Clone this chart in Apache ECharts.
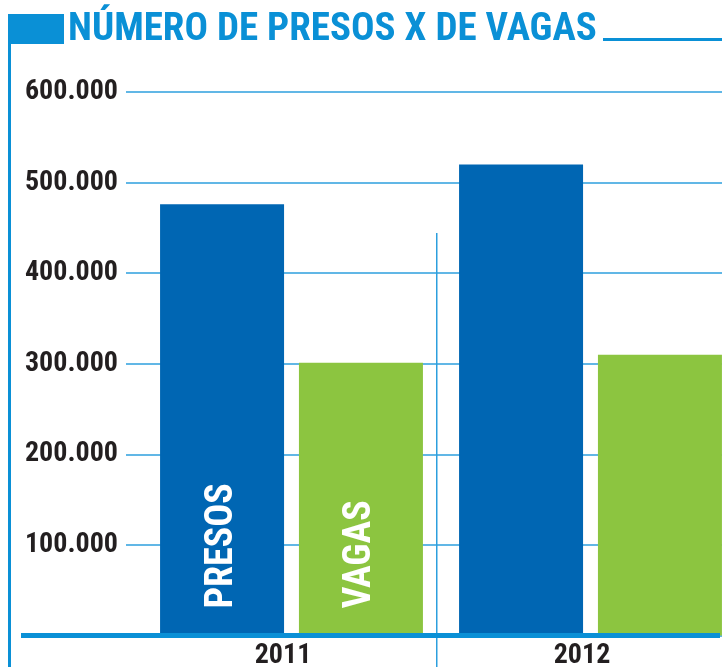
<!DOCTYPE html>
<html>
<head>
<meta charset="utf-8">
<script src="https://cdn.jsdelivr.net/npm/echarts@6/dist/echarts.min.js"></script>
<style>
  html, body { margin: 0; padding: 0; background: #ffffff; }
  #chart { width: 722px; height: 667px; }
</style>
</head>
<body>
<div id="chart"></div>
<script>
// Prisoners vs. prison places, by year
const titleText = 'NÚMERO DE PRESOS X DE VAGAS';
const years = ['2011', '2012'];
const presos = [476000, 520000];
const vagas = [301000, 310000];
const seriesNames = ['PRESOS', 'VAGAS'];
const yTicks = [0, 100000, 200000, 300000, 400000, 500000, 600000];
const yTickLabels = ['', '100.000', '200.000', '300.000', '400.000', '500.000', '600.000'];

const FONT = '"Roboto Condensed", "Liberation Sans", Arial, sans-serif';
const BLUE_LINE = '#0a90d6';
const GRID_LINE = '#2c9fde';
const PRESOS_COLOR = '#0066b3';
const VAGAS_COLOR = '#8cc540';
const INK = '#231f20';

const chart = echarts.init(document.getElementById('chart'), null, { renderer: 'canvas' });

// in-bar series label, shown only on the first year's bar
function withFirstLabel(values) {
  return values.map((v, i) => i === 0 ? { value: v, label: { show: true } } : v);
}

const barLabel = {
  show: false,
  position: 'insideBottom',
  distance: 27,
  rotate: 90,
  align: 'left',
  verticalAlign: 'middle',
  color: '#ffffff',
  fontFamily: FONT,
  fontWeight: 'bold',
  fontSize: 38,
  formatter: p => p.seriesName
};

chart.setOption({
  animation: false,
  backgroundColor: '#ffffff',
  grid: [
    { left: 126, right: 0, top: 92, bottom: 31.5, outerBoundsMode: 'none', containLabel: false },
    { left: 142, width: 598, top: 92, bottom: 31.5, outerBoundsMode: 'none', containLabel: false }
  ],
  xAxis: [
    { type: 'category', gridIndex: 0, data: years, show: false },
    {
      type: 'category', gridIndex: 1, data: years,
      axisLine: { show: false }, axisTick: { show: false },
      axisLabel: {
        color: INK, fontFamily: FONT, fontWeight: 'bold', fontSize: 28,
        margin: 6, padding: [0, 17, 0, 0]
      }
    }
  ],
  yAxis: [
    {
      type: 'value', gridIndex: 0, min: 0, max: 600000, interval: 100000,
      axisLine: { show: false }, axisTick: { show: false },
      splitLine: { lineStyle: { color: GRID_LINE, width: 1.5 } },
      axisLabel: {
        color: INK, fontFamily: FONT, fontWeight: 'bold', fontSize: 28,
        margin: 8, padding: [7, 0, 0, 0],
        formatter: v => yTickLabels[yTicks.indexOf(v)] || ''
      }
    },
    { type: 'value', gridIndex: 1, min: 0, max: 600000, interval: 100000, show: false }
  ],
  series: [
    {
      name: seriesNames[0], type: 'bar', xAxisIndex: 1, yAxisIndex: 1,
      barWidth: 124, barGap: '12%',
      itemStyle: { color: PRESOS_COLOR },
      label: barLabel,
      data: withFirstLabel(presos), z: 3
    },
    {
      name: seriesNames[1], type: 'bar', xAxisIndex: 1, yAxisIndex: 1,
      barWidth: 124, barGap: '12%',
      itemStyle: { color: VAGAS_COLOR },
      label: barLabel,
      data: withFirstLabel(vagas), z: 3
    }
  ]
});

// decorations: title block, frame lines, baseline and year separator
const baseY = chart.convertToPixel({ yAxisIndex: 0 }, 0);
chart.setOption({
  graphic: [
    { type: 'rect', shape: { x: 8, y: 14, width: 56, height: 30 }, style: { fill: BLUE_LINE }, z: 10 },
    { type: 'rect', shape: { x: 8, y: 44, width: 3, height: 623 }, style: { fill: BLUE_LINE }, z: 10 },
    {
      type: 'text', x: 68, y: 30, z: 10,
      style: {
        text: titleText, fill: BLUE_LINE, font: 'bold 39px ' + FONT,
        textVerticalAlign: 'middle', verticalAlign: 'middle'
      }
    },
    { type: 'rect', shape: { x: 603, y: 38, width: 119, height: 3 }, style: { fill: BLUE_LINE }, z: 10 },
    { type: 'rect', shape: { x: 436, y: 233, width: 1.5, height: 434 }, style: { fill: GRID_LINE }, z: 1 },
    { type: 'rect', shape: { x: 21, y: baseY - 2.5, width: 699, height: 5 }, style: { fill: BLUE_LINE }, z: 10 }
  ]
});
</script>
</body>
</html>
